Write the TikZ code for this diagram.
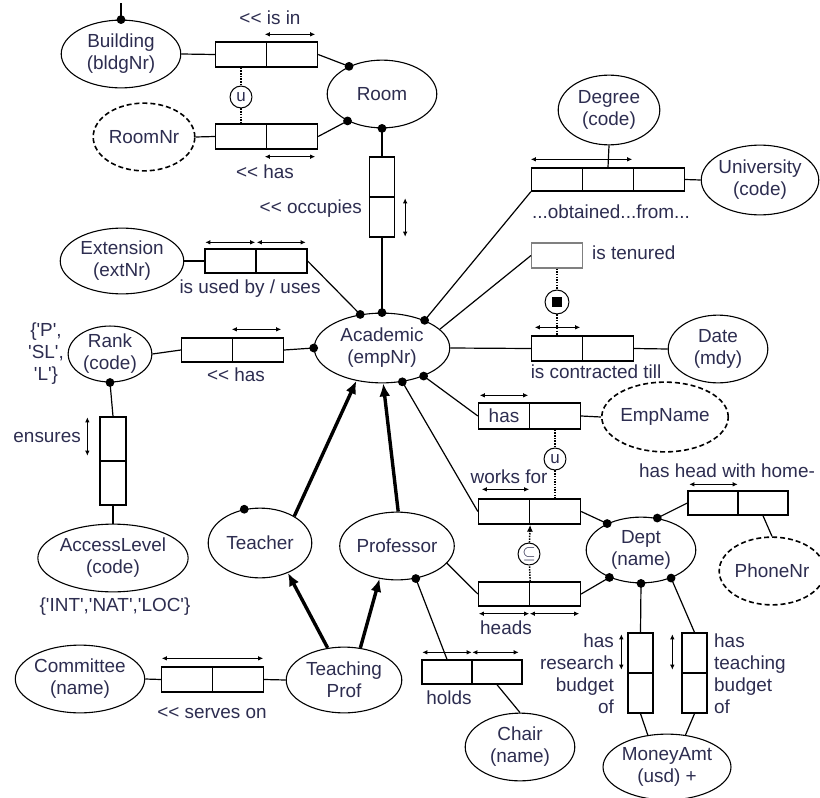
\documentclass[tikz,border=0pt]{standalone}
\usepackage{fontspec}
\setmainfont{Liberation Sans}
\usepackage{graphicx}
\usetikzlibrary{shapes.geometric,arrows.meta}
\definecolor{txt}{RGB}{45,45,80}
\newcommand{\sq}{\textquotesingle}
\begin{document}
\begin{tikzpicture}[x=1bp,y=-1bp,
  every node/.style={text=txt,font=\fontsize{19}{22}\selectfont},
  ent/.style={draw,ellipse,line width=1.1pt,inner sep=0pt,align=center},
  vent/.style={ent,dash pattern=on 5pt off 3pt,line width=1.6pt},
  role/.style={draw,rectangle,line width=1.5pt,inner sep=0pt,minimum width=51,minimum height=25},
  vrole/.style={role,minimum width=25,minimum height=40},
  conn/.style={line width=1.2pt},
  uc/.style={line width=0.8pt,{Latex[length=5pt,width=4.5pt]}-{Latex[length=5pt,width=4.5pt]}},
  sub/.style={line width=3.4pt,-{Latex[length=13pt,width=11pt]}},
  dotl/.style={line width=1.5pt,dash pattern=on 1.5pt off 1.2pt},
  cons/.style={draw,circle,line width=1pt,minimum size=22,inner sep=0pt,fill=white,font=\fontsize{17}{20}\selectfont},
  lbl/.style={inner sep=0pt,align=center}
]
\fill[white] (0,0) rectangle (820,798);
\useasboundingbox (0,0) rectangle (820,798);
\def\dotr{4.4}

% ---------- object types ----------
\node[ent,minimum width=120,minimum height=68] (building) at (121,54) {Building\\(bldgNr)};
\node[vent,minimum width=102,minimum height=68] (roomnr) at (144,137) {RoomNr};
\node[ent,minimum width=110,minimum height=68] (room) at (382,94) {Room};
\node[ent,minimum width=136,minimum height=70] (academic) at (382,348) {Academic\\(empNr)};
\node[ent,minimum width=124,minimum height=66] (extension) at (122,261) {Extension\\(extNr)};
\node[ent,minimum width=84,minimum height=56] (rank) at (110,354) {Rank\\(code)};
\node[ent,minimum width=136,minimum height=68] (access) at (113,558) {AccessLevel\\(code)};
\node[ent,minimum width=104,minimum height=70] (teacher) at (260,543) {Teacher};
\node[ent,minimum width=94,minimum height=68] (professor) at (397,546) {Professor};
\node[ent,minimum width=116,minimum height=66] (tprof) at (344,680) {Teaching\\Prof};
\node[ent,minimum width=124,minimum height=68] (committee) at (80,679) {Committee\\(name)};
\node[ent,minimum width=110,minimum height=68] (chair) at (520,747) {Chair\\(name)};
\node[ent,minimum width=110,minimum height=66] (dept) at (641,550) {Dept\\(name)};
\node[vent,minimum width=96,minimum height=68] (phone) at (772,571) {PhoneNr};
\node[ent,minimum width=122,minimum height=66] (money) at (667,767) {MoneyAmt\\(usd) +};
\node[vent,minimum width=124,minimum height=70] (empname) at (665,417) {EmpName};
\node[ent,minimum width=100,minimum height=68] (date) at (718,349) {Date\\(mdy)};
\node[ent,minimum width=102,minimum height=70] (degree) at (609,110) {Degree\\(code)};
\node[ent,minimum width=104,minimum height=70] (univ) at (760,180) {University\\(code)};

% ---------- roles ----------
\node[role] (isin1) at (241,54.5) {};
\node[role] (isin2) at (292,54.5) {};
\node[role] (rh1x) at (241,136.5) {};
\node[role] (rh2x) at (292,136.5) {};
\node[vrole] (occ1) at (382,177) {};
\node[vrole] (occ2) at (382,217) {};
\node[role,minimum height=23] (obt1) at (557,179.5) {};
\node[role,minimum height=23] (obt2) at (608,179.5) {};
\node[role,minimum height=23] (obt3) at (659,179.5) {};
\node[role,minimum height=24] (ext1) at (230.5,261) {};
\node[role,minimum height=24] (ext2) at (281.5,261) {};
\node[role,draw=gray,line width=1.2pt] (ten) at (557,255.5) {};
\node[role] (con1) at (557,348.5) {};
\node[role] (con2) at (608,348.5) {};
\node[role,minimum height=24] (rk1) at (207,350) {};
\node[role,minimum height=24] (rk2) at (258,350) {};
\node[vrole,minimum width=26,minimum height=44] (ens1) at (113,439) {};
\node[vrole,minimum width=26,minimum height=44] (ens2) at (113,483) {};
\node[role,minimum height=26] (eh1) at (504,416) {has};
\node[role,minimum height=26] (eh2) at (555,416) {};
\node[role] (wf1) at (504,511.5) {};
\node[role] (wf2) at (555,511.5) {};
\node[role,minimum height=24] (hd1) at (504,594) {};
\node[role,minimum height=24] (hd2) at (555,594) {};
\node[role,minimum width=50,minimum height=24] (hh1) at (713,503) {};
\node[role,minimum width=50,minimum height=24] (hh2) at (763,503) {};
\node[role] (sv1) at (187,679.5) {};
\node[role] (sv2) at (238,679.5) {};
\node[role,minimum width=50,minimum height=24] (ho1) at (447,672) {};
\node[role,minimum width=50,minimum height=24] (ho2) at (497,672) {};
\node[vrole] (rb1) at (640.5,653) {};
\node[vrole] (rb2) at (640.5,693) {};
\node[vrole] (tb1) at (694.5,653) {};
\node[vrole] (tb2) at (694.5,693) {};

% ---------- connectors ----------
\coordinate (bt) at (121,3);
\draw[conn] (building.north) -- (bt);
\fill (building.north) circle (\dotr);
\draw[conn] (building.east) -- (isin1.west);
\draw[conn] (roomnr.east) -- (rh1x.west);
\draw[conn] (isin2.east) -- (room.140);  \fill (room.140) circle (\dotr);
\draw[conn] (rh2x.east) -- (room.218);   \fill (room.218) circle (\dotr);
\draw[conn] (room.south) -- (occ1.north); \fill (room.south) circle (\dotr);
\draw[conn] (occ2.south) -- (academic.north); \fill (academic.north) circle (\dotr);
\draw[conn] (extension.east) -- (ext1.west);
\draw[conn] (ext2.east) -- (academic.123); \fill (academic.123) circle (\dotr);
\draw[conn] (rank.east) -- (rk1.west);
\draw[conn] (rk2.east) -- (academic.west); \fill (academic.west) circle (\dotr);
\draw[conn] (rank.south) -- (ens1.north); \fill (rank.south) circle (\dotr);
\draw[conn] (ens2.south) -- (access.north);
\draw[conn] (academic.33) -- (obt1.south west); \fill (academic.33) circle (\dotr);
\draw[conn] (degree.south) -- (obt2.north);
\draw[conn] (obt3.east) -- (univ.west);
\draw[conn] (academic.18) -- (ten.west);
\draw[conn] (academic.east) -- (con1.west);
\draw[conn] (con2.east) -- (date.west);
\draw[conn] (academic.326) -- (eh1.west); \fill (academic.326) circle (\dotr);
\draw[conn] (eh2.east) -- (empname.west);
\draw[conn] (academic.301) -- (wf1.west); \fill (academic.301) circle (\dotr);
\draw[conn] (wf2.east) -- (dept.142); \fill (dept.142) circle (\dotr);
\draw[conn] (hh1.west) -- (dept.63); \fill (dept.63) circle (\dotr);
\draw[conn] (hh2.south) -- (phone.north);
\draw[conn] (professor.341) -- (hd1.west);
\draw[conn] (hd2.east) -- (dept.221); \fill (dept.221) circle (\dotr);
\draw[conn] (professor.300) -- (ho1.north); \fill (professor.300) circle (\dotr);
\draw[conn] (ho2.south) -- (chair.north);
\draw[conn] (dept.south) -- (rb1.north); \fill (dept.south) circle (\dotr);
\draw[conn] (dept.317) -- (tb1.north); \fill (dept.317) circle (\dotr);
\draw[conn] (rb2.south) -- (money.121);
\draw[conn] (tb2.south) -- (money.60);
\draw[conn] (committee.east) -- (sv1.west);
\draw[conn] (sv2.east) -- (tprof.west);
\fill (teacher.115) circle (\dotr);

% ---------- subtyping ----------
\draw[sub] (teacher.38) -- (academic.232);
\draw[sub] (professor.88) -- (academic.272);
\draw[sub] (tprof.117) -- (teacher.313);
\draw[sub] (tprof.63) -- (professor.242);

% ---------- uniqueness constraints ----------
\draw[uc] ([xshift=-1pt,yshift=7pt]isin2.north west) -- ([xshift=-3pt,yshift=7pt]isin2.north east);
\draw[uc] ([xshift=-1pt,yshift=-7pt]rh2x.south west) -- ([xshift=-3pt,yshift=-7pt]rh2x.south east);
\draw[uc] ([xshift=10pt,yshift=-2pt]occ2.north east) -- ([xshift=10pt,yshift=1pt]occ2.south east);
\draw[uc] ([yshift=8pt]obt1.north west) -- ([xshift=-2pt,yshift=8pt]obt2.north east);
\draw[uc] ([xshift=1pt,yshift=6pt]ext1.north west) -- ([xshift=-1.5pt,yshift=6pt]ext1.north east);
\draw[uc] ([xshift=1.5pt,yshift=6pt]ext2.north west) -- ([xshift=-2pt,yshift=6pt]ext2.north east);
\draw[uc] ([xshift=4pt,yshift=8pt]con1.north west) -- ([xshift=-3pt,yshift=8pt]con1.north east);
\draw[uc] ([yshift=8pt]rk2.north west) -- ([xshift=-3pt,yshift=8pt]rk2.north east);
\draw[uc] ([xshift=-12pt,yshift=-1pt]ens1.north west) -- ([xshift=-12pt,yshift=6pt]ens1.south west);
\draw[uc] ([xshift=2pt,yshift=7pt]eh1.north west) -- ([xshift=-2pt,yshift=7pt]eh1.north east);
\draw[uc] ([xshift=4pt,yshift=9pt]wf1.north west) -- ([xshift=-1pt,yshift=9pt]wf1.north east);
\draw[uc] ([xshift=1pt,yshift=-7pt]hd1.south west) -- ([xshift=-1pt,yshift=-7pt]hd1.south east);
\draw[uc] ([xshift=1pt,yshift=-7pt]hd2.south west) -- ([xshift=-2pt,yshift=-7pt]hd2.south east);
\draw[uc] ([xshift=2pt,yshift=6pt]hh1.north west) -- ([xshift=-1pt,yshift=6pt]hh1.north east);
\draw[uc] ([xshift=1pt,yshift=8pt]sv1.north west) -- ([xshift=-1pt,yshift=8pt]sv2.north east);
\draw[uc] ([xshift=1pt,yshift=7pt]ho1.north west) -- ([xshift=-1pt,yshift=7pt]ho1.north east);
\draw[uc] ([xshift=1pt,yshift=7pt]ho2.north west) -- ([xshift=-4pt,yshift=7pt]ho2.north east);
\draw[uc] ([xshift=-6pt,yshift=-2pt]rb1.north west) -- ([xshift=-6pt,yshift=4pt]rb1.south west);
\draw[uc] ([xshift=-9pt,yshift=-2pt]tb1.north west) -- ([xshift=-9pt,yshift=4pt]tb1.south west);

% ---------- other constraints ----------
\node[cons] (uc1) at (241,97) {u};
\draw[dotl] (isin1.south) -- (uc1);
\draw[dotl] (uc1) -- (rh1x.north);
\node[cons] (uc2) at (555,459) {u};
\draw[dotl] (eh2.south) -- (uc2);
\draw[dotl] (uc2) -- (wf2.north);
\node[cons] (subc) at (529,554) {$\subseteq$};
\draw[dotl] (hd1.north east) -- (subc);
\draw[dotl,-{Latex[length=7pt,width=6pt]}] (subc) -- (wf1.south east);
\node[cons,minimum size=24] (tc) at (557,302) {};
\fill (tc.center) ++(-5,-5) rectangle ++(10,10);
\draw[dotl] (ten.south) -- (tc);
\draw[dotl] (tc) -- (con1.north);

% ---------- labels ----------
\node[lbl] (l1) at (270,18) {{<}{<} is in};
\node[lbl] (l2) at (265,172) {{<}{<} has};
\node[lbl,anchor=east] (l3) at (362,209) {{<}{<} occupies};
\node[lbl] (l4) at (611,212) {...obtained...from...};
\node[lbl] (l5) at (250,289) {is used by / uses};
\node[lbl,anchor=west] (l6) at (592,253) {is tenured};
\node[lbl] (l7) at (596,372) {is contracted till};
\node[lbl] (l8) at (236,375) {{<}{<} has};
\node[lbl] (l9) at (46,354) {\{\sq P\sq,\\\sq SL\sq,\\\sq L\sq\}};
\node[lbl,anchor=east] (l10) at (81,437) {ensures};
\node[lbl] (l11) at (115,607) {\{\sq INT\sq,\sq NAT\sq,\sq LOC\sq\}};
\node[lbl] (l12) at (509,477) {works for};
\node[lbl] (l13) at (727,471) {has head with home-};
\node[lbl] (l14) at (506,628) {heads};
\node[lbl] (l15) at (449,698) {holds};
\node[lbl] (l16) at (212,713) {{<}{<} serves on};
\node[lbl,anchor=east,align=right] (l17) at (614,674) {has\\research\\budget\\of};
\node[lbl,anchor=west,align=left] (l18) at (714,674) {has\\teaching\\budget\\of};
\end{tikzpicture}
\end{document}
